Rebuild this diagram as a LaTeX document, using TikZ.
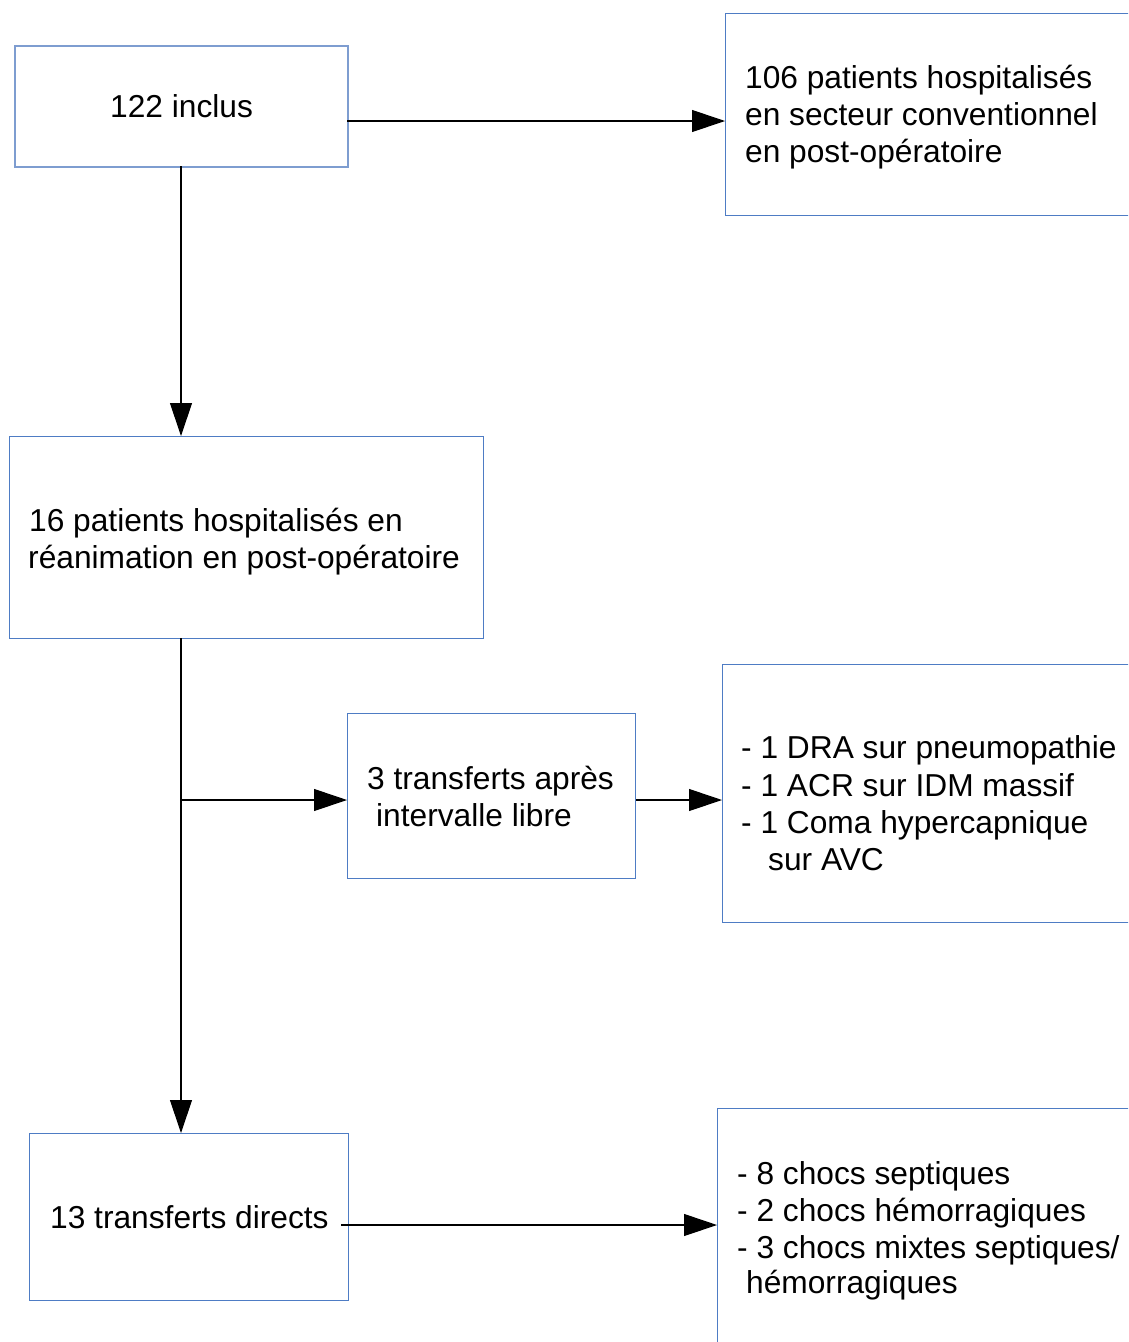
\documentclass[tikz,border=0pt]{standalone}
\usepackage{fontspec}
\setmainfont{Liberation Sans}
\usetikzlibrary{arrows.meta}
\definecolor{boxlight}{HTML}{7E9DD0}
\definecolor{boxdark}{HTML}{4E7CC4}
\tikzset{
  boxA/.style={draw=boxlight, line width=1.6pt, inner sep=0pt, anchor=north west},
  boxo/.style={draw=boxdark, line width=1.1pt, inner sep=0pt, anchor=north west},
  txt/.style={anchor=base west, inner sep=0pt, font=\fontsize{31.7}{37}\selectfont},
  conn/.style={line width=1.1pt, -{Triangle[length=33pt,width=22pt]}}
}
\begin{document}
\begin{tikzpicture}[x=1pt,y=-1pt]
\useasboundingbox (0,0) rectangle (1128,1342);
\clip (0,0) rectangle (1128,1342);
% boxes
\node[boxA, minimum width=333pt, minimum height=121pt] (A) at (14,45) {};
\node[boxo, minimum width=420pt, minimum height=202pt] (B) at (725,13) {};
\node[boxo, minimum width=474pt, minimum height=202pt] (C) at (9,436) {};
\node[boxo, minimum width=288pt, minimum height=165pt] (D) at (347,713) {};
\node[boxo, minimum width=420pt, minimum height=258pt] (E) at (722,664) {};
\node[boxo, minimum width=319pt, minimum height=167pt] (F) at (29,1133) {};
\node[boxo, minimum width=420pt, minimum height=260pt] (G) at (717,1108) {};
% texts
\node[txt] (tA) at (110,117) {122 inclus};
\node[txt] (tB1) at (745,88) {106 patients hospitalisés};
\node[txt] (tB2) at (745,125) {en secteur conventionnel};
\node[txt] (tB3) at (745,162) {en post-opératoire};
\node[txt] (tC1) at (29,531) {16 patients hospitalisés en};
\node[txt] (tC2) at (28,568) {réanimation en post-opératoire};
\node[txt] (tD1) at (367,789) {3 transferts après};
\node[txt] (tD2) at (376,826) {intervalle libre};
\node[txt] (tE1) at (741,758) {- 1 DRA sur pneumopathie};
\node[txt] (tE2) at (741,796) {- 1 ACR sur IDM massif};
\node[txt] (tE3) at (741,833) {- 1 Coma hypercapnique};
\node[txt] (tE4) at (768,870) {sur AVC};
\node[txt] (tF) at (50,1228) {13 transferts directs};
\node[txt] (tG1) at (737,1184) {- 8 chocs septiques};
\node[txt] (tG2) at (737,1221) {- 2 chocs hémorragiques};
\node[txt] (tG3) at (737,1258) {- 3 chocs mixtes septiques/};
\node[txt] (tG4) at (746,1293) {hémorragiques};
% connector coordinates
\coordinate (aR) at (347,121);
\coordinate (aB) at (181,166);
\coordinate (cB) at (181,638);
\coordinate (split) at (181,800);
\coordinate (fS) at (341,1225);
% connectors
\draw[conn] (aR) -- (aR -| B.west);
\draw[conn] (aB) -- (aB |- C.north);
\draw[conn] (cB) -- (cB |- F.north);
\draw[conn] (split) -- (split -| D.west);
\draw[conn] (D.east |- split) -- (split -| E.west);
\draw[conn] (fS) -- (fS -| G.west);
\end{tikzpicture}
\end{document}
